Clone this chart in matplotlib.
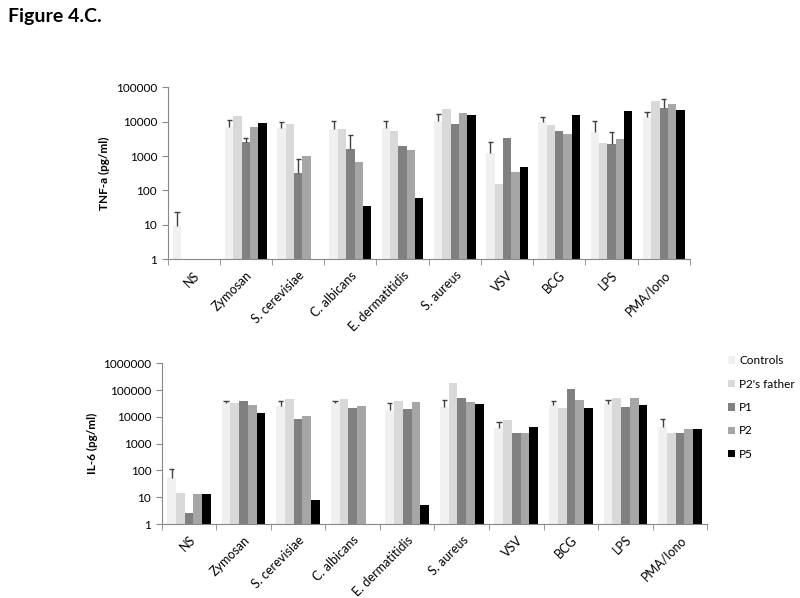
import numpy as np
import matplotlib
matplotlib.use('Agg')
import matplotlib.pyplot as plt

plt.rcParams['font.family'] = ['Lato', 'DejaVu Sans']

# Categories and series
stimuli = ['NS', 'Zymosan', 'S. cerevisiae', 'C. albicans', 'E. dermatitidis',
           'S. aureus', 'VSV', 'BCG', 'LPS', 'PMA/Iono']
series = ['Controls', "P2's father", 'P1', 'P2', 'P5']
colors = ['#f0f0f0', '#d9d9d9', '#808080', '#a6a6a6', '#000000']

# TNF-a (pg/ml), None = no bar
tnf_controls = [9, 6900, 6400, 6000, 6700, 10700, 1200, 9600, 5100, 13400]
tnf_father = [None, 15000, 8600, 6000, 5250, 23000, 150, 8000, 2350, 40000]
tnf_p1 = [None, 2570, 330, 1650, 1910, 8600, 3300, 5350, 2300, 24600]
tnf_p2 = [None, 7200, 1000, 690, 1500, 18300, 340, 4400, 3100, 32700]
tnf_p5 = [None, 9300, None, 35, 62, 15500, 480, 15500, 21000, 22000]
tnf_controls_err = [15, 4300, 3600, 4700, 3500, 5600, 1370, 4400, 5400, 6100]
tnf_p1_err = [0, 880, 480, 2350, 0, 0, 0, 0, 2800, 21400]

# IL-6 (pg/ml)
il6_controls = [51, 32000, 25000, 32000, 18000, 24000, 3700, 27500, 29500, 4300]
il6_father = [14, 32000, 45000, 45000, 39000, 178000, 7400, 21300, 51000, 2550]
il6_p1 = [2.6, 39000, 8100, 22000, 20000, 49000, 2550, 110000, 24000, 2550]
il6_p2 = [13.5, 27000, 11000, 24500, 35500, 35000, 2500, 41000, 50000, 3400]
il6_p5 = [13, 13500, 7.9, None, 5, 29500, 4300, 22000, 27500, 3400]
il6_controls_err = [59, 7000, 14000, 7000, 14000, 18000, 2700, 12500, 12500, 4000]


def to_arr(vals):
    return np.array([np.nan if v is None else v for v in vals], dtype=float)


def draw_panel(ax, data, errs, ylabel, ymax):
    x = np.arange(len(stimuli))
    w = 0.16
    for i, (vals, c) in enumerate(zip(data, colors)):
        pos = x + (i - 2) * w
        v = to_arr(vals)
        ax.bar(pos, v, width=w, color=c, edgecolor='none', label=series[i], zorder=2)
        if errs[i] is not None:
            # plus-direction error bars only (upper whisker + cap)
            e = np.array(errs[i], dtype=float)
            m = e > 0
            top = v[m] + e[m]
            ax.vlines(pos[m], v[m], top, color='#404040', lw=1, zorder=3)
            ax.hlines(top, pos[m] - 0.05, pos[m] + 0.05, color='#404040', lw=1, zorder=3)
    ax.set_yscale('log')
    ax.set_ylim(1, ymax)
    ax.set_xlim(-0.5, len(stimuli) - 0.5)
    ax.yaxis.set_major_locator(matplotlib.ticker.LogLocator(base=10, numticks=10))
    ax.yaxis.set_minor_locator(matplotlib.ticker.NullLocator())
    ax.yaxis.set_major_formatter(matplotlib.ticker.FuncFormatter(lambda v, p: '%d' % round(v)))
    ax.set_xticks(x)
    ax.set_xticklabels(stimuli, rotation=45, ha='right', rotation_mode='anchor', fontsize=9)
    ax.set_xticks(np.arange(len(stimuli) + 1) - 0.5, minor=True)
    ax.tick_params(axis='x', which='major', length=0, pad=7)
    ax.tick_params(axis='x', which='minor', length=4, color='#888888')
    ax.tick_params(axis='y', length=4, color='#888888', labelsize=8.5)
    for s in ['top', 'right']:
        ax.spines[s].set_visible(False)
    for s in ['left', 'bottom']:
        ax.spines[s].set_color('#888888')
    ax.set_ylabel(ylabel, fontsize=8.5, fontweight='bold')


fig = plt.figure(figsize=(8, 5.98), dpi=100)
fig.text(0.01, 0.973, 'Figure 4.C.', fontsize=14, fontweight='bold', va='center')

ax1 = fig.add_axes([0.2094, 0.5664, 0.653, 0.2876])
draw_panel(ax1, [tnf_controls, tnf_father, tnf_p1, tnf_p2, tnf_p5],
           [tnf_controls_err, None, tnf_p1_err, None, None], 'TNF-a (pg/ml)', 1e5)

ax2 = fig.add_axes([0.2021, 0.1237, 0.682, 0.2688])
draw_panel(ax2, [il6_controls, il6_father, il6_p1, il6_p2, il6_p5],
           [il6_controls_err, None, None, None, None], 'IL-6 (pg/ml)', 1e6)

ax2.legend(loc='upper left', bbox_to_anchor=(1.038, 1.05), frameon=False, fontsize=8.5,
           borderpad=0, borderaxespad=0,
           handlelength=0.6, handleheight=0.6, labelspacing=1.05, handletextpad=0.35)

fig.savefig('out.png', dpi=100)
